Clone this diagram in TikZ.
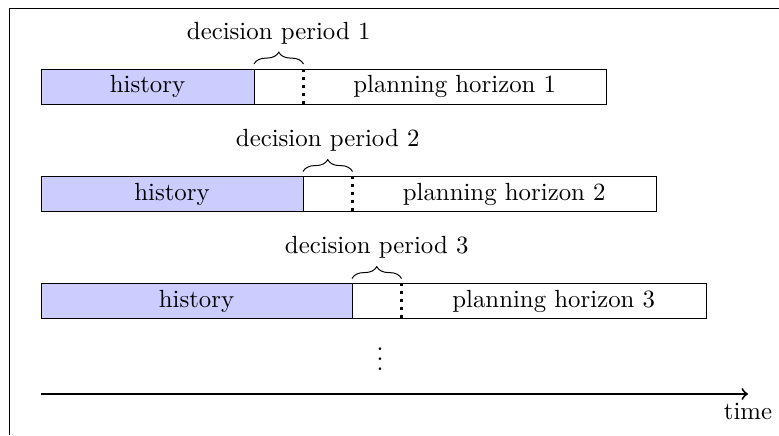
\documentclass[tikz,border=0pt]{standalone}
\usetikzlibrary{decorations.pathreplacing,calc}
\begin{document}
\begin{tikzpicture}[x=0.403pt,y=-0.403pt,
  cut/.style={very thick, dotted},
  bracedec/.style={decorate, decoration={brace, amplitude=4.8pt}},
  lbl/.style={inner sep=0pt}]
  \useasboundingbox (0,0) rectangle (779,435);
  % frame edges
  \draw (9,435) -- (9,8) -- (779,8);

  % three rolling windows: history, decision period, planning horizon
  \foreach \i/\top/\s/\e in {1/69/254/606, 2/176.5/303/656, 3/283.5/352/706}{
    \pgfmathsetmacro{\bot}{\top+35}
    \pgfmathsetmacro{\d}{\s+49.5}
    \coordinate (ht\i) at (41,\top);
    \coordinate (hb\i) at (\s,\bot);
    \coordinate (pt\i) at (\s,\top);
    \coordinate (pb\i) at (\e,\bot);
    \coordinate (dt\i) at (\d,\top);
    \coordinate (db\i) at (\d,\bot);
    \draw[fill=blue!20] (ht\i) rectangle (hb\i);
    \draw (pt\i) rectangle (pb\i);
    \draw[cut] (dt\i) -- (db\i);
    \node[lbl] (hist\i) at ($(ht\i)!0.5!(hb\i)$) {history};
    \node[lbl] (plan\i) at ($(dt\i)!0.5!(pb\i)$) {planning horizon \i};
    \draw[bracedec] ([yshift=2pt]pt\i) -- ([yshift=2pt]dt\i)
      node[midway, above=7.8pt, lbl] (dec\i) {decision period \i};
  }

  \node[lbl] (dots) at (380,352) {$\vdots$};

  % time axis
  \coordinate (t0) at (41,394);
  \coordinate (t1) at (748,394);
  \draw[thick,->] (t0) -- (t1);
  \node[below=3.5pt, lbl] (time) at (t1) {time};
\end{tikzpicture}
\end{document}
